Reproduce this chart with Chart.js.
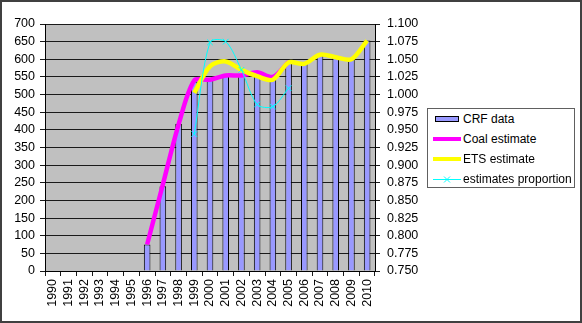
<!DOCTYPE html>
<html>
<head>
<meta charset="utf-8">
<script src="https://cdn.jsdelivr.net/npm/chart.js@4/dist/chart.umd.min.js"></script>
<style>
  html, body { margin: 0; padding: 0; background: #fff; }
  #wrap { position: relative; width: 582px; height: 323px; }
  #frame { position: absolute; left: 0; top: 0; width: 582px; height: 323px; box-sizing: border-box;
           border: 2px solid #404040; pointer-events: none; }
  #legend { position: absolute; left: 427px; top: 108px; width: 148px; height: 80px; box-sizing: border-box;
            border: 1px solid #606060; background: #fff;
            font-family: "Liberation Sans", Arial, sans-serif; font-size: 12px; color: #000; }
  .item { position: absolute; left: 5px; height: 20px; display: flex; align-items: center; white-space: nowrap; }
  .item svg { margin-right: 2px; }
</style>
</head>
<body>
<div id="wrap">
  <canvas id="c" width="582" height="323"></canvas>
  <div id="legend"></div>
  <div id="frame"></div>
</div>
<script>
// Years on the category axis
const years = ['1990','1991','1992','1993','1994','1995','1996','1997','1998','1999','2000',
               '2001','2002','2003','2004','2005','2006','2007','2008','2009','2010'];

// Emissions (left axis)
const crfData = [null, null, null, null, null, null, 75, 240, 417, 537, 543,
                 552, 553, 556, 546, 590, 588, 613, 608, 600, 653];
const coalEstimate = [null, null, null, null, null, null, 75, 245, 415, 540, 542,
                      554, 554, 563, 550, 593, null, null, null, null, null];
const etsEstimate = [null, null, null, null, null, null, null, null, null, 505, 580,
                     594, 570, 552, 542, 591, 587, 613, 606, 600, 653];

// Ratio of the two estimates (right axis)
const estimatesProportion = [null, null, null, null, null, null, null, null, null, 0.944, 1.074,
                             1.075, 1.035, 0.986, 0.983, 1.009, null, null, null, null, null];

// Axis tick values
const leftTicks = [0, 50, 100, 150, 200, 250, 300, 350, 400, 450, 500, 550, 600, 650, 700];
const rightTicks = [0.750, 0.775, 0.800, 0.825, 0.850, 0.875, 0.900, 0.925,
                    0.950, 0.975, 1.000, 1.025, 1.050, 1.075, 1.100];

const FONT = { family: '"Liberation Sans", Arial, sans-serif', size: 12.5 };
const GRID = '#1a1a1a';

const plotBackground = {
  id: 'plotBackground',
  beforeDraw(chart) {
    const { ctx, chartArea: a } = chart;
    ctx.save();
    ctx.fillStyle = '#c0c0c0';
    ctx.fillRect(a.left, a.top, a.right - a.left, a.bottom - a.top);
    ctx.restore();
  }
};

const series = [
  { type: 'bar', label: 'CRF data', data: crfData, yAxisID: 'y',
    backgroundColor: '#9999ff', borderColor: '#000', borderWidth: 1,
    barPercentage: 0.42, categoryPercentage: 1, order: 4 },
  { type: 'line', label: 'Coal estimate', data: coalEstimate, yAxisID: 'y',
    borderColor: '#ff00ff', borderWidth: 4.5, pointRadius: 0, tension: 0.3,
    fill: false, order: 3 },
  { type: 'line', label: 'ETS estimate', data: etsEstimate, yAxisID: 'y',
    borderColor: '#ffff00', borderWidth: 4.5, pointRadius: 0, tension: 0.3,
    fill: false, order: 2 },
  { type: 'line', label: 'estimates proportion', data: estimatesProportion, yAxisID: 'y1',
    borderColor: '#00ffff', borderWidth: 1, pointStyle: 'crossRot', pointRadius: 4,
    pointBorderColor: '#00ffff', pointBorderWidth: 1, tension: 0.3, fill: false, order: 1 }
];

new Chart(document.getElementById('c'), {
  data: { labels: years, datasets: series },
  plugins: [plotBackground],
  options: {
    responsive: false,
    animation: false,
    devicePixelRatio: 1,
    layout: { padding: { top: 24, left: 0, right: 0, bottom: 0 } },
    plugins: { legend: { display: false }, tooltip: { enabled: false } },
    scales: {
      x: {
        type: 'category',
        offset: true,
        grid: { offset: true, drawOnChartArea: false, drawTicks: true, tickLength: 5, color: GRID },
        border: { color: '#000', width: 1 },
        ticks: { autoSkip: false, minRotation: 90, maxRotation: 90, padding: 3, color: '#000',
                 font: { family: FONT.family, size: 12.5 } },
        afterFit(s) { s.height = 52; }
      },
      y: {
        position: 'left',
        min: 0, max: 700,
        afterBuildTicks(s) { s.ticks = leftTicks.map(v => ({ value: v })); },
        ticks: { autoSkip: false, color: '#000', font: FONT, padding: 5 },
        grid: { color: GRID, tickLength: 5 },
        border: { color: '#000', width: 1 },
        afterFit(s) { s.width = 45; }
      },
      y1: {
        position: 'right',
        min: 0.75, max: 1.1,
        afterBuildTicks(s) { s.ticks = rightTicks.map(v => ({ value: v })); },
        ticks: { autoSkip: false, color: '#000', font: FONT, padding: 7,
                 callback: v => Number(v).toFixed(3) },
        grid: { drawOnChartArea: false, color: GRID, tickLength: 5 },
        border: { color: '#000', width: 1 },
        afterFit(s) { s.width = 207; }
      }
    }
  }
});

// Legend
const legendItems = [
  { label: 'CRF data', kind: 'bar', color: '#9999ff' },
  { label: 'Coal estimate', kind: 'line', color: '#ff00ff', width: 4 },
  { label: 'ETS estimate', kind: 'line', color: '#ffff00', width: 4 },
  { label: 'estimates proportion', kind: 'marker', color: '#00ffff', width: 1 }
];
const legend = document.getElementById('legend');
legendItems.forEach((it, i) => {
  const row = document.createElement('div');
  row.className = 'item';
  row.style.top = (i * 20) + 'px';
  let sym;
  if (it.kind === 'bar') {
    sym = `<svg width="28" height="20"><rect x="2.5" y="7.5" width="23" height="5" fill="${it.color}" stroke="#000" stroke-width="1"/></svg>`;
  } else if (it.kind === 'line') {
    sym = `<svg width="28" height="20"><line x1="0" y1="10" x2="28" y2="10" stroke="${it.color}" stroke-width="${it.width}"/></svg>`;
  } else {
    sym = `<svg width="28" height="20"><line x1="0" y1="10.5" x2="28" y2="10.5" stroke="${it.color}" stroke-width="1"/>` +
          `<path d="M11 7.5 L17 13.5 M17 7.5 L11 13.5" stroke="${it.color}" stroke-width="1"/></svg>`;
  }
  row.innerHTML = sym + '<span>' + it.label + '</span>';
  legend.appendChild(row);
});
</script>
</body>
</html>
